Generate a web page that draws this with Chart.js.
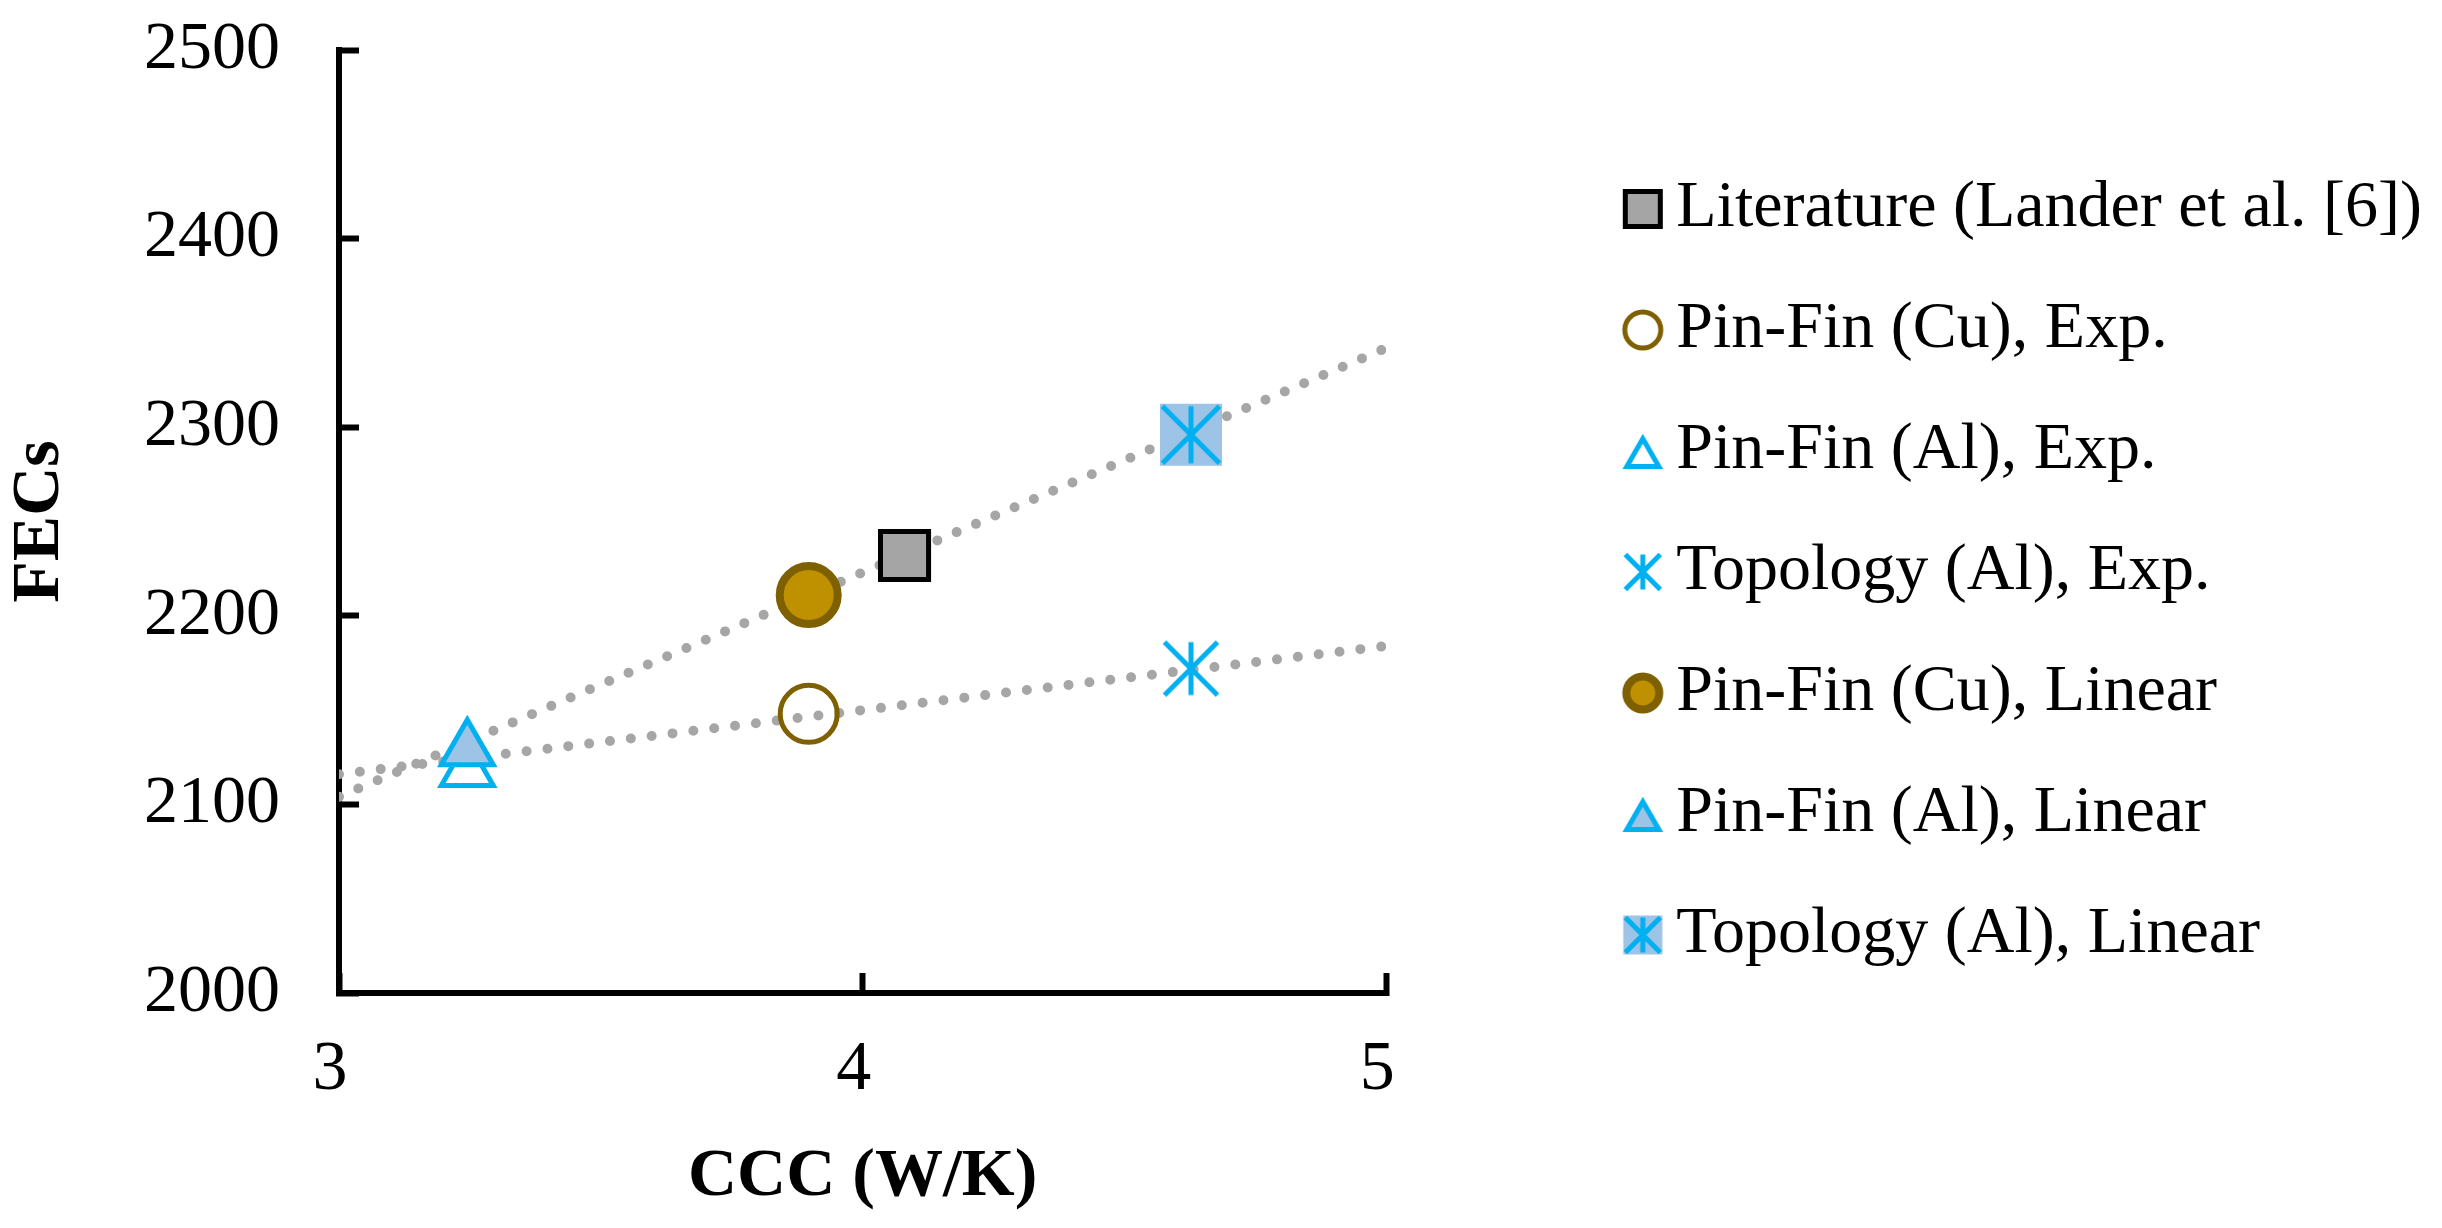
<!DOCTYPE html>
<html>
<head>
<meta charset="utf-8">
<title>FECs vs CCC</title>
<script src="https://cdn.jsdelivr.net/npm/chart.js@4.4.1/dist/chart.umd.min.js"></script>
<style>
  html, body { margin: 0; padding: 0; background: #fff; }
  #chart { display: block; }
</style>
</head>
<body>
<canvas id="chart" width="2442" height="1228"></canvas>
<script>
// Values (x = CCC in W/K, y = FECs)
const xTicks = [3, 4, 5];
const yTicks = [2000, 2100, 2200, 2300, 2400, 2500];

const seriesLabels = [
    'Literature (Lander et al. [6])',
    'Pin-Fin (Cu), Exp.',
    'Pin-Fin (Al), Exp.',
    'Topology (Al), Exp.',
    'Pin-Fin (Cu), Linear',
    'Pin-Fin (Al), Linear',
    'Topology (Al), Linear'
];

const literatureX = [4.08];
const literatureY = [2232];
const cuExpX = [3.897];
const cuExpY = [2148];
const alExpX = [3.245];
const alExpY = [2118];
const topoExpX = [4.627];
const topoExpY = [2172];
const cuLinX = [3.897];
const cuLinY = [2211];
const alLinX = [3.245];
const alLinY = [2129];
const topoLinX = [4.627];
const topoLinY = [2296];

// dotted trendlines (end points read at x = 3 and x = 5)
const trendX = [3, 5];
const linearTrendY = [2104, 2342];
const expTrendY = [2116, 2184];

const FONT = "'Liberation Serif', 'Times New Roman', serif";
const CU_DARK = '#7f6000';
const CU_FILL = '#bf9000';
const AL_LINE = '#00b0f0';
const AL_FILL = '#9dc3e6';

function toPoints(xs, ys) {
    return xs.map((x, i) => ({ x: x, y: ys[i] }));
}

// small canvases used as point styles
function markerCanvas(size, paint) {
    const c = document.createElement('canvas');
    c.width = size;
    c.height = size;
    paint(c.getContext('2d'), size / 2);
    return c;
}

function drawAsterisk(g, cx, cy, half, width, color) {
    g.strokeStyle = color;
    g.lineWidth = width;
    g.lineCap = 'butt';
    g.beginPath();
    g.moveTo(cx, cy - half); g.lineTo(cx, cy + half);
    g.moveTo(cx - half, cy - half); g.lineTo(cx + half, cy + half);
    g.moveTo(cx + half, cy - half); g.lineTo(cx - half, cy + half);
    g.stroke();
}

function drawTriangle(g, cx, cy, r, width, stroke, fill) {
    const off = r / 4 + 1.5; // centre the box of the triangle, not its centroid
    g.beginPath();
    for (let k = 0; k < 3; k++) {
        const a = k * 2 * Math.PI / 3;
        const px = cx + Math.sin(a) * r;
        const py = cy + off - Math.cos(a) * r;
        if (k === 0) g.moveTo(px, py); else g.lineTo(px, py);
    }
    g.closePath();
    if (fill) { g.fillStyle = fill; g.fill(); }
    g.lineWidth = width;
    g.strokeStyle = stroke;
    g.stroke();
}

function drawSquare(g, cx, cy, side, width, stroke, fill) {
    g.fillStyle = fill;
    g.fillRect(cx - side / 2, cy - side / 2, side, side);
    if (width > 0) {
        g.lineWidth = width;
        g.strokeStyle = stroke;
        g.strokeRect(cx - side / 2, cy - side / 2, side, side);
    }
}

function drawCircle(g, cx, cy, r, width, stroke, fill) {
    g.beginPath();
    g.arc(cx, cy, r, 0, Math.PI * 2);
    if (fill) { g.fillStyle = fill; g.fill(); }
    g.lineWidth = width;
    g.strokeStyle = stroke;
    g.stroke();
}

// markers on the plot
const topoExpMarker = markerCanvas(60, (g, c) => drawAsterisk(g, c, c, 26.5, 5, AL_LINE));
const topoLinMarker = markerCanvas(70, (g, c) => {
    drawSquare(g, c, c, 62, 0, null, AL_FILL);
    drawAsterisk(g, c, c, 28.5, 5, AL_LINE);
});

// markers in the legend
const legendIcons = [
    markerCanvas(46, (g, c) => drawSquare(g, c, c, 35, 5, '#000', '#a5a5a5')),
    markerCanvas(46, (g, c) => drawCircle(g, c, c, 18, 5, CU_DARK, null)),
    markerCanvas(46, (g, c) => drawTriangle(g, c, c, 18.5, 5, AL_LINE, null)),
    markerCanvas(46, (g, c) => drawAsterisk(g, c, c, 17.5, 5, AL_LINE)),
    markerCanvas(46, (g, c) => drawCircle(g, c, c, 16.5, 8, CU_DARK, CU_FILL)),
    markerCanvas(46, (g, c) => drawTriangle(g, c, c, 18.5, 5, AL_LINE, AL_FILL)),
    markerCanvas(46, (g, c) => {
        drawSquare(g, c, c, 39, 0, null, AL_FILL);
        drawAsterisk(g, c, c, 17.5, 5, AL_LINE);
    })
];

function markerSet(label, xs, ys, style, radius, fill, stroke, width, order) {
    return {
        label: label,
        data: toPoints(xs, ys),
        pointStyle: style,
        pointRadius: radius,
        pointHoverRadius: radius,
        pointBackgroundColor: fill,
        pointBorderColor: stroke,
        pointBorderWidth: width,
        pointHoverBorderWidth: width,
        order: order
    };
}

function trendSet(label, ys) {
    return {
        label: label,
        data: toPoints(trendX, ys),
        showLine: true,
        pointRadius: 0,
        pointHoverRadius: 0,
        borderColor: '#a6a6a6',
        borderWidth: 10,
        borderDash: [0, 21],
        borderCapStyle: 'round',
        fill: false,
        order: 5
    };
}

const datasets = [
    markerSet(seriesLabels[0], literatureX, literatureY, 'rect', 34, '#a5a5a5', '#000', 5, 1),
    markerSet(seriesLabels[1], cuExpX, cuExpY, 'circle', 28.5, 'rgba(0,0,0,0)', CU_DARK, 5, 2),
    markerSet(seriesLabels[2], alExpX, alExpY, 'triangle', 30, 'rgba(0,0,0,0)', AL_LINE, 5, 2),
    markerSet(seriesLabels[3], topoExpX, topoExpY, topoExpMarker, 30, AL_LINE, AL_LINE, 0, 2),
    markerSet(seriesLabels[4], cuLinX, cuLinY, 'circle', 29, CU_FILL, CU_DARK, 8, 1),
    markerSet(seriesLabels[5], alLinX, alLinY, 'triangle', 30, AL_FILL, AL_LINE, 5, 1),
    markerSet(seriesLabels[6], topoLinX, topoLinY, topoLinMarker, 30, AL_FILL, AL_LINE, 0, 1),
    trendSet('Linear trend', linearTrendY),
    trendSet('Exp. trend', expTrendY)
];

const ctx = document.getElementById('chart').getContext('2d');
new Chart(ctx, {
    type: 'scatter',
    data: { datasets: datasets },
    options: {
        responsive: false,
        animation: false,
        devicePixelRatio: 1,
        events: [],
        layout: { padding: { top: 50, right: 10, bottom: 0, left: 0 } },
        plugins: {
            tooltip: { enabled: false },
            legend: {
                position: 'right',
                align: 'start',
                maxWidth: 1000,
                title: { display: true, text: ' ', padding: { top: 59, bottom: 0 }, font: { size: 10 } },
                labels: {
                    usePointStyle: true,
                    boxWidth: 1,
                    padding: 55,
                    color: '#000',
                    font: { family: FONT, size: 66 },
                    generateLabels: chart => chart.data.datasets.map((ds, i) => ({
                        text: ds.label,
                        datasetIndex: i,
                        pointStyle: legendIcons[i] || 'line',
                        hidden: false,
                        lineWidth: 0,
                        fillStyle: 'rgba(0,0,0,0)',
                        strokeStyle: 'rgba(0,0,0,0)',
                        fontColor: '#000'
                    })),
                    filter: item => item.datasetIndex < seriesLabels.length
                }
            }
        },
        scales: {
            x: {
                type: 'linear',
                position: 'bottom',
                min: xTicks[0],
                max: xTicks[xTicks.length - 1],
                afterBuildTicks: s => { s.ticks = xTicks.map(v => ({ value: v })); },
                afterFit: s => {
                    s.height = 235;
                    s.paddingLeft = 20;
                    s.paddingRight = 20;
                },
                border: { display: true, color: '#000', width: 6 },
                grid: { display: true, drawOnChartArea: false, drawTicks: true, tickLength: -20, tickWidth: 6, tickColor: '#000' },
                ticks: {
                    color: '#000',
                    padding: 56,
                    labelOffset: -9,
                    font: { family: FONT, size: 70 },
                    callback: v => String(v)
                },
                title: {
                    display: true,
                    text: 'CCC (W/K)',
                    color: '#000',
                    font: { family: FONT, size: 68, weight: 'bold' },
                    padding: { top: 0, bottom: 10 }
                }
            },
            y: {
                type: 'linear',
                position: 'left',
                min: yTicks[0],
                max: yTicks[yTicks.length - 1],
                afterBuildTicks: s => { s.ticks = yTicks.map(v => ({ value: v })); },
                afterFit: s => {
                    s.width = 339;
                    s.paddingTop = 42;
                    s.paddingBottom = 42;
                },
                border: { display: true, color: '#000', width: 6 },
                grid: { display: true, drawOnChartArea: false, drawTicks: true, tickLength: -20, tickWidth: 6, tickColor: '#000' },
                ticks: {
                    color: '#000',
                    padding: 79,
                    font: { family: FONT, size: 68 },
                    callback: v => String(v)
                },
                title: {
                    display: true,
                    text: 'FECs',
                    color: '#000',
                    font: { family: FONT, size: 68, weight: 'bold' },
                    padding: { top: 0, bottom: 0 }
                }
            },
            // empty space between the plot and the legend
            gap: {
                type: 'linear',
                position: 'right',
                display: true,
                grid: { display: false },
                border: { display: false },
                ticks: { display: false },
                afterFit: s => { s.width = 201; }
            }
        }
    }
});
</script>
</body>
</html>
